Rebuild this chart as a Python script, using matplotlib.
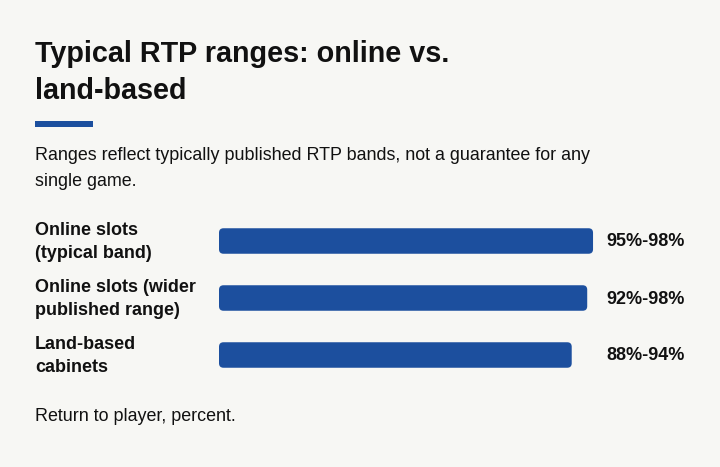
import matplotlib
matplotlib.use("Agg")
import matplotlib.pyplot as plt
from matplotlib.patches import FancyBboxPatch, Rectangle

# ---- data ----
categories = [["Online slots", "(typical band)"],
              ["Online slots (wider", "published range)"],
              ["Land-based", "cabinets"]]
rtp_low = [95, 92, 88]
rtp_high = [98, 98, 94]
value_labels = ["95%-98%", "92%-98%", "88%-94%"]
mids = [(lo + hi) / 2 for lo, hi in zip(rtp_low, rtp_high)]

title_lines = ["Typical RTP ranges: online vs.", "land-based"]
subtitle_lines = ["Ranges reflect typically published RTP bands, not a guarantee for any",
                  "single game."]
footer = "Return to player, percent."

# ---- style ----
BG = "#f7f7f4"
BLUE = "#1c4f9e"
TXT = "#111111"
W, H = 720, 467
plt.rcParams['font.family'] = ['Liberation Sans', 'DejaVu Sans']

fig = plt.figure(figsize=(W / 100, H / 100), dpi=100, facecolor=BG)

def fx(x):
    return x / W

def fy(y):
    return 1 - y / H

# title
fig.text(fx(35), fy(62), title_lines[0], fontsize=20.7, fontweight='bold', color=TXT, va='baseline')
fig.text(fx(35), fy(99), title_lines[1], fontsize=20.7, fontweight='bold', color=TXT, va='baseline')
# accent line
fig.patches.append(Rectangle((fx(35), fy(127)), fx(93) - fx(35), fy(121) - fy(127),
                             transform=fig.transFigure, color=BLUE, lw=0))
# subtitle
fig.text(fx(35), fy(159.5), subtitle_lines[0], fontsize=12.9, color=TXT, va='baseline')
fig.text(fx(35), fy(185.5), subtitle_lines[1], fontsize=12.9, color=TXT, va='baseline')
# footer
fig.text(fx(35), fy(421), footer, fontsize=12.9, color=TXT, va='baseline')

# bars axes
ax_left, ax_right = 219, 606.6
ax_top, ax_bot = 212.5, 383.5
ax = fig.add_axes([fx(ax_left), fy(ax_bot), (ax_right - ax_left) / W, (ax_bot - ax_top) / H])
ax.set_facecolor(BG)
ax.set_xlim(0, 100)
ax.set_ylim(len(mids) - 0.5, -0.5)
for s in ax.spines.values():
    s.set_visible(False)
ax.set_xticks([])
ax.set_yticks([])

bar_h = 25.5 / 57
bars = ax.barh(range(len(mids)), mids, height=bar_h, color=BLUE)

px_per_x = (ax_right - ax_left) / 100
px_per_y = (ax_bot - ax_top) / len(mids)
r_px = 4.5
r_x = r_px / px_per_x
aspect = (r_px / px_per_y) / r_x
for rect in bars.patches:
    fb = FancyBboxPatch((rect.get_x(), rect.get_y()), rect.get_width(), rect.get_height(),
                        boxstyle=f"round,pad=0,rounding_size={r_x}",
                        mutation_aspect=aspect, facecolor=BLUE, edgecolor='none')
    ax.add_patch(fb)
    rect.set_visible(False)

for i, (lab, val) in enumerate(zip(categories, value_labels)):
    ax.annotate(val, xy=(1.0, i), xycoords=('axes fraction', 'data'),
                xytext=(0, -5.5), textcoords='offset pixels',
                fontsize=13, fontweight='bold', color=TXT, va='baseline', ha='left',
                annotation_clip=False)
    ax.annotate(lab[0], xy=(fx(35), i), xycoords=('figure fraction', 'data'),
                xytext=(0, 6), textcoords='offset pixels',
                fontsize=13, fontweight='bold', color=TXT, va='baseline', ha='left',
                annotation_clip=False)
    ax.annotate(lab[1], xy=(fx(35), i), xycoords=('figure fraction', 'data'),
                xytext=(0, -17), textcoords='offset pixels',
                fontsize=13, fontweight='bold', color=TXT, va='baseline', ha='left',
                annotation_clip=False)

fig.savefig("out.png", dpi=100, facecolor=BG)
